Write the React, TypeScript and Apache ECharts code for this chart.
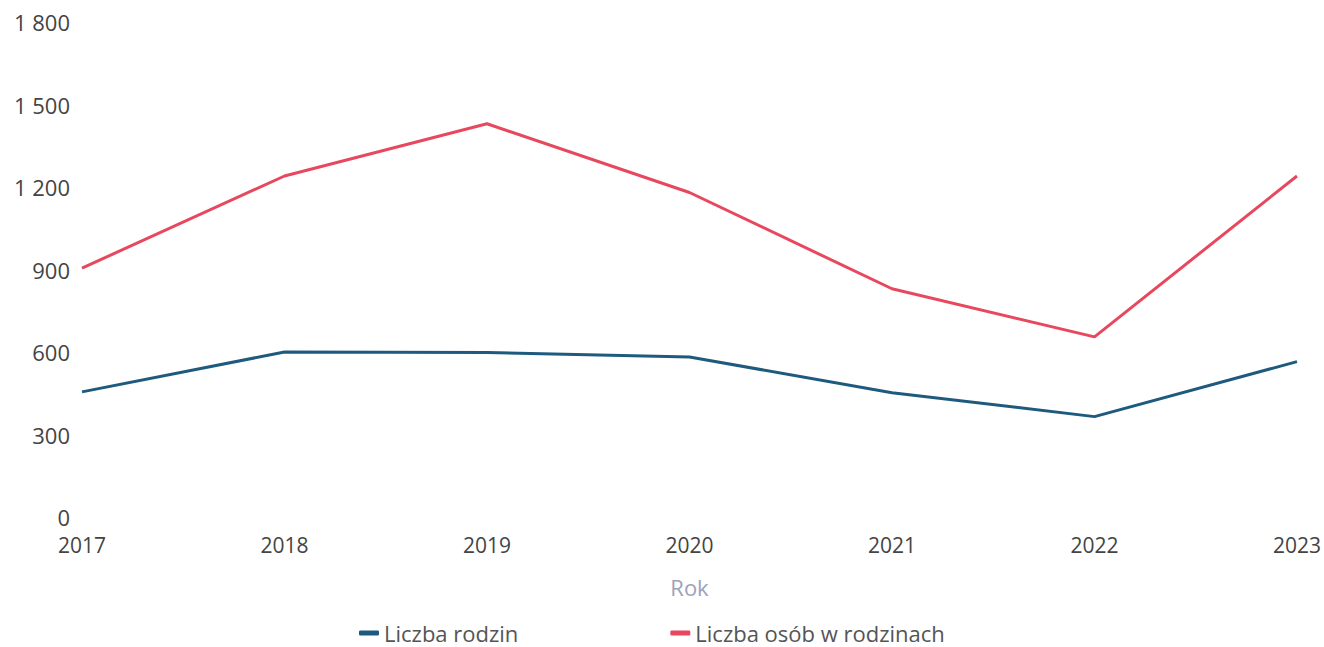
import React, { useEffect, useRef } from "react";
import * as echarts from "echarts";

const years = ["2017", "2018", "2019", "2020", "2021", "2022", "2023"];
const rodziny = [455, 600, 598, 582, 452, 365, 565];
const osoby = [905, 1240, 1430, 1180, 830, 655, 1240];
const seriesNames = ["Liczba rodzin", "Liczba osób w rodzinach"];

const fmt = (v: number) => String(v).replace(/\B(?=(\d{3})+(?!\d))/g, " ");

export default function App() {
  const ref = useRef<HTMLDivElement>(null);
  useEffect(() => {
    if (!ref.current) return;
    const chart = echarts.init(ref.current, undefined, { renderer: "svg" });
    chart.setOption({
      animation: false,
      backgroundColor: "#ffffff",
      textStyle: { fontFamily: "Open Sans" },
      grid: { left: 82, right: 27, top: 22, bottom: 130 },
      legend: {
        left: 359,
        top: 622,
        padding: 0,
        itemGap: 152,
        itemWidth: 20,
        itemHeight: 5,
        icon: "roundRect",
        textStyle: { fontSize: 22, lineHeight: 22, color: "#555", fontFamily: "Open Sans" },
        data: seriesNames,
      },
      xAxis: {
        type: "category",
        data: years,
        boundaryGap: false,
        name: "Rok",
        nameLocation: "middle",
        nameGap: 59,
        nameTextStyle: { fontSize: 22, color: "#9ca1bd" },
        axisLine: { show: false },
        axisTick: { show: false },
        axisLabel: { fontSize: 21, color: "#444", margin: 17 },
      },
      yAxis: {
        type: "value",
        min: 0,
        max: 1800,
        interval: 300,
        splitLine: { show: false },
        axisLine: { show: false },
        axisTick: { show: false },
        axisLabel: { fontSize: 22, color: "#444", margin: 12, formatter: fmt },
      },
      series: [
        {
          name: seriesNames[0],
          type: "line",
          data: rodziny,
          symbol: "none",
          lineStyle: { width: 3, color: "#1d5a7e" },
          itemStyle: { color: "#1d5a7e" },
        },
        {
          name: seriesNames[1],
          type: "line",
          data: osoby,
          symbol: "none",
          lineStyle: { width: 3, color: "#e8485e" },
          itemStyle: { color: "#e8485e" },
        },
      ],
    });
    return () => chart.dispose();
  }, []);
  return <div ref={ref} style={{ width: 1324, height: 647, position: "absolute", left: 0, top: 0 }} />;
}
